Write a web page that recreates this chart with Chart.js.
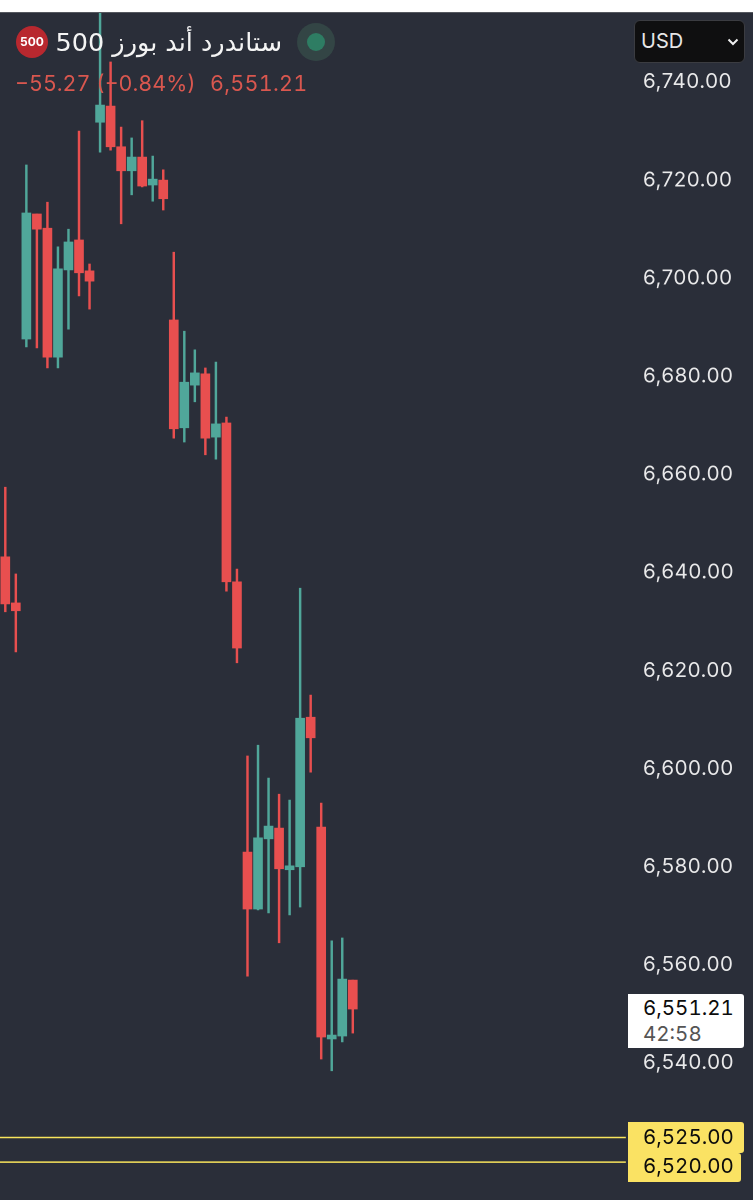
<!DOCTYPE html>
<html>
<head>
<meta charset="utf-8">
<script src="https://cdn.jsdelivr.net/npm/chart.js"></script>
<style>
	html, body { margin: 0; padding: 0; background: #fff; }
	#wrap { position: absolute; left: 0; top: 12px; width: 753px; height: 1188px; background: #2a2e39; border-top: 1px solid #55585f; box-sizing: border-box; overflow: hidden; }
	#wrap canvas { position: absolute; left: 0; top: 0; }
	.abs { position: absolute; white-space: nowrap; font-family: Inter, "Noto Sans", sans-serif; }
	.tag { left: 628px; width: 116px; box-sizing: border-box; padding-left: 15px; color: #0c0c0c; font-size: 20.5px; font-variant-numeric: tabular-nums; border-radius: 0 3px 3px 0; }
	.chg { top: 69px; font-size: 21.5px; line-height: 28px; color: #d9574f; font-variant-numeric: tabular-nums; }
</style>
</head>
<body>
<div id="wrap"><canvas id="chart" width="753" height="1187"></canvas></div>

<div class="abs" id="badge" style="left:16px;top:26px;width:32px;height:32px;border-radius:50%;background:#b8282f;color:#fff;font-size:12px;font-weight:700;line-height:32px;text-align:center;">500</div>
<div class="abs" id="title" dir="rtl" style="left:56px;top:26px;width:226px;font-family:'DejaVu Sans',sans-serif;font-size:25.5px;line-height:32px;color:#f4f4f4;">ستاندرد أند بورز 500</div>
<div class="abs" style="left:297px;top:23px;width:38px;height:38px;border-radius:50%;background:#334545;"></div>
<div class="abs" style="left:307px;top:33px;width:18px;height:18px;border-radius:50%;background:#2e7d63;"></div>
<div class="abs chg" style="left:15px;">−55.27 (−0.84%)</div>
<div class="abs chg" style="left:210px;letter-spacing:0.3px;">6,551.21</div>

<div class="abs" style="left:634px;top:20px;width:111px;height:43px;box-sizing:border-box;background:#0f0f10;border:1.5px solid #3b3c41;border-radius:6px;color:#e6e6e6;font-size:20px;line-height:40px;padding-left:6px;">USD
	<svg width="12" height="8" style="position:absolute;left:92px;top:17px;"><path d="M1.5 1.5 L6 6 L10.5 1.5" stroke="#eee" stroke-width="2" fill="none"/></svg>
</div>

<div class="abs tag" style="top:994px;height:54px;background:#fff;line-height:26px;padding-top:1px;">6,551.21<br><span style="color:#555;">42:58</span></div>
<div class="abs tag" style="top:1122px;height:31px;background:#fae263;line-height:29px;">6,525.00</div>
<div class="abs tag" style="top:1153px;height:29px;width:113px;background:#fae263;line-height:25px;">6,520.00</div>

<script>
// Candles, left to right.
var opens  = [ 6643.4, 6634.0, 6687.8, 6713.3, 6710.4, 6684.1, 6701.9, 6708.0, 6701.7, 6732.0, 6735.3, 6727.0, 6722.1, 6724.9, 6719.2, 6720.2, 6691.7, 6669.7, 6678.4, 6680.7, 6667.8, 6670.7, 6638.3, 6583.2, 6571.6, 6585.9, 6588.1, 6579.6, 6580.2, 6610.7, 6588.3, 6545.1, 6545.7, 6557.1 ];
var highs  = [ 6657.6, 6639.9, 6723.3, 6713.3, 6715.7, 6706.6, 6710.2, 6730.2, 6703.1, 6757.0, 6744.3, 6731.0, 6728.8, 6732.3, 6725.1, 6722.3, 6705.5, 6689.4, 6685.6, 6681.9, 6683.1, 6671.9, 6640.9, 6602.8, 6605.0, 6598.3, 6595.0, 6593.8, 6637.0, 6615.2, 6593.2, 6565.1, 6565.7, 6557.1 ];
var lows   = [ 6632.2, 6624.0, 6686.2, 6686.0, 6681.9, 6681.9, 6689.8, 6696.6, 6693.9, 6725.9, 6726.3, 6711.3, 6717.2, 6718.8, 6715.9, 6714.1, 6667.6, 6666.8, 6675.0, 6664.2, 6663.3, 6636.4, 6621.8, 6557.9, 6571.4, 6570.8, 6564.7, 6570.4, 6572.0, 6599.5, 6541.0, 6538.6, 6544.5, 6546.3 ];
var closes = [ 6633.8, 6632.4, 6713.5, 6710.2, 6684.1, 6702.1, 6707.6, 6701.3, 6699.6, 6735.5, 6727.0, 6722.1, 6724.9, 6719.0, 6720.4, 6716.4, 6669.5, 6679.0, 6680.9, 6667.6, 6670.5, 6638.3, 6624.8, 6571.6, 6586.1, 6588.5, 6579.8, 6580.4, 6610.5, 6606.5, 6545.5, 6545.9, 6557.3, 6551.21 ];
var tickValues = [ 6740, 6720, 6700, 6680, 6660, 6640, 6620, 6600, 6580, 6560, 6540 ];
var alertLevels = [ 6525, 6520 ];

var UP = '#50a79a';
var DOWN = '#e84f4f';
var XMIN = -0.503, XMAX = 60.56, LINE_END = 58.93;
var YMIN = 6512.27, YMAX = 6754.27;

function candleColors() {
	return opens.map( function ( o, i ) {
		return closes[ i ] >= o ? UP : DOWN;
	} );
}

var datasets = [
	{
		type: 'bar',
		xAxisID: 'x',
		yAxisID: 'y',
		data: highs.map( function ( h, i ) { return { x: i, y: [ lows[ i ], h ] }; } ),
		backgroundColor: candleColors(),
		barThickness: 1.8,
		grouped: false,
		order: 3,
	},
	{
		type: 'bar',
		xAxisID: 'x',
		yAxisID: 'y',
		data: opens.map( function ( o, i ) { return { x: i, y: [ o, closes[ i ] ] }; } ),
		backgroundColor: candleColors(),
		barThickness: 9,
		grouped: false,
		order: 2,
	},
];

alertLevels.forEach( function ( level ) {
	datasets.push( {
		type: 'line',
		xAxisID: 'x',
		yAxisID: 'y',
		data: [ { x: XMIN, y: level }, { x: LINE_END, y: level } ],
		borderColor: '#f8e45c',
		borderWidth: 1.5,
		pointRadius: 0,
		order: 1,
	} );
} );

new Chart( document.getElementById( 'chart' ), {
	type: 'bar',
	data: { datasets: datasets },
	plugins: [ {
		id: 'labelSpacing',
		beforeDraw: function ( chart ) {
			chart.ctx.letterSpacing = '0.5px';
		},
	} ],
	options: {
		responsive: false,
		animation: false,
		devicePixelRatio: 2,
		layout: { padding: 0, autoPadding: false },
		plugins: { legend: { display: false }, tooltip: { enabled: false } },
		scales: {
			// bar charts turn offset on by default, that would widen the range
			x: { type: 'linear', min: XMIN, max: XMAX, offset: false, display: false },
			y: { type: 'linear', min: YMIN, max: YMAX, display: false },
			// same scale lifted 1px: the labels sit a little above their price in the app
			priceLabels: {
				type: 'linear',
				position: 'right',
				min: YMIN - 0.2,
				max: YMAX - 0.2,
				afterBuildTicks: function ( axis ) {
					axis.ticks = tickValues.map( function ( v ) { return { value: v }; } );
				},
				afterFit: function ( axis ) {
					axis.width = 110;
					axis.paddingTop = axis.paddingBottom = 0;
				},
				grid: { display: false, drawTicks: false },
				border: { display: false },
				ticks: {
					padding: 0,
					color: '#e9e9ea',
					font: { family: 'Inter', size: 20.5 },
					callback: function ( value ) {
						return value.toLocaleString( 'en-US', { minimumFractionDigits: 2 } );
					},
				},
			},
		},
	},
} );
</script>
</body>
</html>
